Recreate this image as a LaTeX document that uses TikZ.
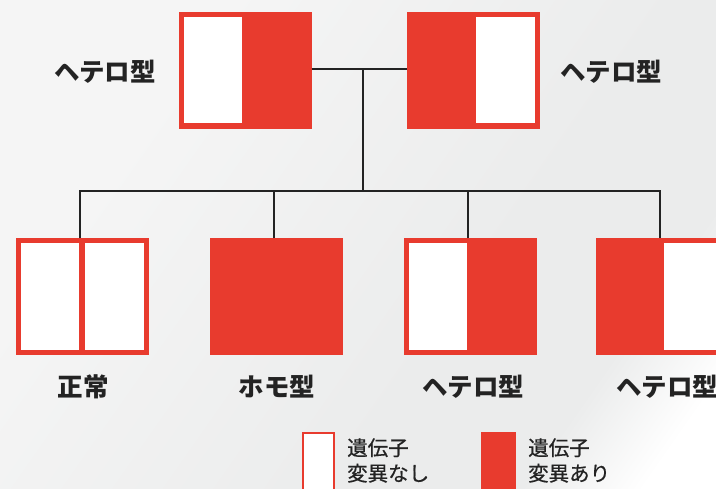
\documentclass[tikz,border=0pt]{standalone}
\usepackage{fontspec}
\setmainfont{Noto Sans CJK JP}
\usetikzlibrary{calc}
\definecolor{gred}{HTML}{E83B2E}
\definecolor{ink}{HTML}{232323}
\definecolor{bgA}{HTML}{F5F5F5}
\definecolor{bgB}{HTML}{EBECEC}
\pgfdeclarehorizontalshading{bgsh}{100bp}{color(0bp)=(bgA); color(30bp)=(bgA); color(60bp)=(bgB); color(72bp)=(bgB); color(80bp)=(white); color(100bp)=(white)}
\tikzset{
  gbox/.style={fill=gred, draw=none, minimum width=133pt, minimum height=117pt, inner sep=0pt, outer sep=0pt},
  wpart/.style={fill=white, draw=none},
  link/.style={draw=ink, line width=1.5pt},
  lbl/.style={text=ink, font=\bfseries\fontsize{25.5}{28}\selectfont, inner sep=0pt},
  leg/.style={text=ink, font=\addfontfeature{FakeBold=0.6}\fontsize{20.5}{25.5}\selectfont, align=left, anchor=west, inner sep=0pt},
}
\begin{document}
\begin{tikzpicture}[x=1pt,y=-1pt]
\useasboundingbox (0,0) rectangle (716,489);
\shade[shading=bgsh, shading angle=-35] (0,0) rectangle (716,489);

% parents
\node[gbox] (p1) at (245,70.5) {};
\fill[wpart] ($(p1.north west)+(5.5,5.5)$) rectangle ($(p1.south)+(-3,-5.5)$);
\node[gbox] (p2) at (473.5,70.5) {};
\fill[wpart] ($(p2.north)+(2.5,5.5)$) rectangle ($(p2.south east)+(-5.5,-5.5)$);

% children
\node[gbox] (c1) at (82,297) {};
\fill[wpart] ($(c1.north west)+(5,5)$) rectangle ($(c1.south)+(-2.7,-5)$);
\fill[wpart] ($(c1.north)+(2.7,5)$) rectangle ($(c1.south east)+(-5,-5)$);
\node[gbox] (c2) at (276,297) {};
\node[gbox] (c3) at (470,297) {};
\fill[wpart] ($(c3.north west)+(5,5)$) rectangle ($(c3.south)+(-3,-5)$);
\node[gbox] (c4) at (662,297) {};
\fill[wpart] ($(c4.north)+(2,5)$) rectangle ($(c4.south east)+(-5,-5)$);

% connectors
\coordinate (m) at (363,69);
\coordinate (bar) at (363,191);
\draw[link] (p1.east |- m) -- (p2.west |- m);
\draw[link] (m) -- (bar);
\draw[link] ([xshift=-2pt]c1.north) |- (bar) -| ([xshift=-2pt]c4.north);
\draw[link] ([xshift=-2pt]c2.north) -- ([xshift=-2pt]c2.north |- bar);
\draw[link] ([xshift=-2pt]c3.north) -- ([xshift=-2pt]c3.north |- bar);

% labels
\node[lbl] (l1) at (105,72) {ヘテロ型};
\node[lbl] (l2) at (611,72) {ヘテロ型};
\node[lbl] (l3) at (83,387) {正常};
\node[lbl] (l4) at (277,387) {ホモ型};
\node[lbl] (l5) at (473,387) {ヘテロ型};
\node[lbl] (l6) at (667,387) {ヘテロ型};

% legend
\fill[gred] (301.5,432.5) rectangle (334.5,495);
\fill[white] (303.5,434.5) rectangle (332.5,495);
\node[leg] (t1) at (347,460.5) {遺伝子\\変異なし};
\fill[gred] (481,432.5) rectangle (516,495);
\node[leg] (t2) at (528,460.5) {遺伝子\\変異あり};
\end{tikzpicture}
\end{document}
